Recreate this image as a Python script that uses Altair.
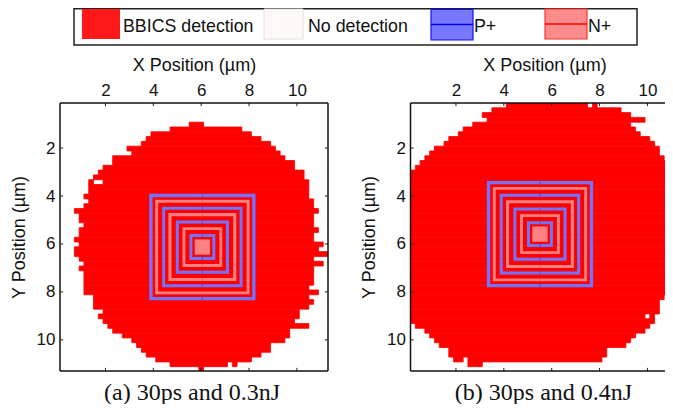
import altair as alt
import pandas as pd

# Detected runs per 0.2 um row: (first column, end column), columns and rows on a 0.2 um grid
RUNS_A = {
 4:[(27,30)],5:[(23,38)],6:[(19,40)],7:[(18,42)],8:[(17,44)],9:[(14,45)],10:[(15,46)],11:[(11,47)],
 12:[(11,49)],13:[(9,49)],14:[(8,51)],15:[(7,51)],16:[(6,7),(9,52)],17:[(6,52)],18:[(6,52)],19:[(5,52)],
 20:[(6,53)],21:[(5,53)],22:[(3,54)],23:[(4,53)],24:[(4,53)],25:[(5,53)],26:[(4,54)],27:[(4,53)],
 28:[(3,53)],29:[(4,55)],30:[(3,54)],31:[(3,56)],32:[(4,53)],33:[(5,55)],34:[(4,53)],35:[(5,53)],
 36:[(5,53)],37:[(5,53)],38:[(5,52)],39:[(5,54)],40:[(7,52)],41:[(7,53)],42:[(7,52)],43:[(9,50)],
 44:[(8,50)],45:[(9,49)],46:[(10,52)],47:[(11,48)],48:[(13,48)],49:[(15,47)],50:[(16,44)],51:[(17,44)],
 52:[(18,42)],53:[(20,40)],54:[(23,35),(36,37)],55:[(29,30)],
}
RUNS_B = {
 0:[(20,37),(38,39)],1:[(17,44)],2:[(15,46)],3:[(16,49)],4:[(13,46)],5:[(11,47)],6:[(10,48)],7:[(8,50)],
 8:[(7,51)],9:[(5,52)],10:[(4,52)],11:[(3,53)],12:[(2,56)],13:[(1,56)],14:[(0,56)],15:[(0,56)],
 16:[(0,54),(55,56)],17:[(0,56)],18:[(0,56)],19:[(0,56)],20:[(0,56)],21:[(0,56)],22:[(0,56)],23:[(0,56)],
 24:[(0,56)],25:[(0,56)],26:[(0,56)],27:[(0,56)],28:[(0,56)],29:[(0,56)],30:[(0,56)],31:[(0,56)],
 32:[(0,56)],33:[(0,56)],34:[(0,56)],35:[(0,56)],36:[(0,56)],37:[(0,56)],38:[(0,54)],39:[(0,54)],
 40:[(0,53)],41:[(0,52)],42:[(0,52)],43:[(0,52)],44:[(0,49),(50,51)],45:[(0,51)],46:[(1,50)],47:[(3,49)],
 48:[(4,47)],49:[(5,46)],50:[(6,45)],51:[(8,41)],52:[(8,41)],53:[(9,11),(12,40)],54:[(12,15)],
}
TICKS = [2, 4, 6, 8, 10]
# Ring half-sizes in um (outer, inner), outermost first
RING_OUTER = [2.22, 1.97, 1.68, 1.417, 1.11, 0.83, 0.54]
RING_INNER = [2.08, 1.85, 1.556, 1.29, 0.986, 0.71, 0.417]
RING_KIND = ["P+", "N+", "P+", "N+", "P+", "N+", "P+"]
CORE_HALF = 0.32
CENTER_A = (6.05, 6.13)
CENTER_B = (5.51, 5.59)
BLUE, PINK = "#7373ff", "#ff8080"
DARK = {"P+": "#4a4ad8", "N+": "#f26060"}

X0, Y0, Y1 = 0.1, 0.12, 11.3
SANS = "Liberation Sans"
SERIF = "Liberation Serif"
one = pd.DataFrame({"a": [0]})


def cells(runs):
    rows = []
    for r, spans in runs.items():
        for a, b in spans:
            rows.append({"x": X0 + 0.2 * a, "x2": X0 + 0.2 * b, "y": Y0 + 0.2 * r, "y2": Y0 + 0.2 * (r + 1)})
    return pd.DataFrame(rows)


def panel(runs, center, xend, width, caption, cap_x, title_x, box_right, legend=None):
    xs = alt.Scale(domain=[X0, xend], nice=False, zero=False)
    ys = alt.Scale(domain=[Y0, Y1], nice=False, zero=False, reverse=True)
    xax = alt.Axis(orient="top", values=TICKS, title="X Position (µm)", tickSize=0, domain=False, grid=False,
                   labelFont=SANS, labelFontSize=17, labelColor="#111", labelPadding=4, labelFontWeight="normal",
                   titleFont=SANS, titleFontSize=18, titleFontWeight="normal", titleColor="#111",
                   titleX=title_x, titleY=-38, titleBaseline="middle", titleAnchor="middle", titleAlign="center")
    yax = alt.Axis(orient="left", values=TICKS, title="Y Position (µm)", tickSize=0, domain=False, grid=False,
                   labelFont=SANS, labelFontSize=17, labelColor="#111", labelPadding=5,
                   titleFont=SANS, titleFontSize=18, titleFontWeight="normal", titleColor="#111",
                   titleX=-41, titleY=134, titleBaseline="middle", titleAnchor="middle", titleAlign="center")
    cdf = cells(runs)
    base = alt.Chart(cdf).mark_rect(color="#ff0000", stroke="#ff0000", strokeWidth=0.8, clip=True).encode(
        x=alt.X("x:Q", scale=xs, axis=xax), x2="x2:Q",
        y=alt.Y("y:Q", scale=ys, axis=yax), y2="y2:Q")
    cx, cy = center
    rings = pd.DataFrame([
        {"x": cx - (o + i) / 2, "x2": cx + (o + i) / 2, "y": cy - (o + i) / 2, "y2": cy + (o + i) / 2,
         "c": BLUE if k == "P+" else PINK, "w": (o - i) * 24}
        for o, i, k in zip(RING_OUTER, RING_INNER, RING_KIND)])
    ring = alt.Chart(rings).mark_rect(fillOpacity=0).encode(
        x=alt.X("x:Q", scale=xs, axis=None), x2="x2:Q", y=alt.Y("y:Q", scale=ys, axis=None), y2="y2:Q",
        stroke=alt.Stroke("c:N", scale=None), strokeWidth=alt.StrokeWidth("w:Q", scale=None))
    core = alt.Chart(pd.DataFrame([{"x": cx - CORE_HALF, "x2": cx + CORE_HALF, "y": cy - CORE_HALF, "y2": cy + CORE_HALF}])
                     ).mark_rect(color=PINK).encode(
        x=alt.X("x:Q", scale=xs, axis=None), x2="x2:Q", y=alt.Y("y:Q", scale=ys, axis=None), y2="y2:Q")
    seg_rows = []
    for o, i, k in zip(RING_OUTER, RING_INNER, RING_KIND):
        seg_rows.append({"x": cx, "y": cy - o, "y2": cy - i, "c": DARK[k]})
        seg_rows.append({"x": cx, "y": cy + i, "y2": cy + o, "c": DARK[k]})
    segs = alt.Chart(pd.DataFrame(seg_rows)).mark_rule(strokeWidth=1).encode(
        x=alt.X("x:Q", scale=xs, axis=None), y=alt.Y("y:Q", scale=ys, axis=None), y2="y2:Q",
        color=alt.Color("c:N", scale=None))
    # inward ticks
    tick_rows = []
    for t in TICKS:
        tick_rows.append({"x": t, "x2": t, "y": Y0, "y2": Y0 + 0.13})
        tick_rows.append({"x": t, "x2": t, "y": Y1 - 0.13, "y2": Y1})
        tick_rows.append({"x": X0, "x2": X0 + 0.13, "y": t, "y2": t})
        if box_right:
            tick_rows.append({"x": xend - 0.13, "x2": xend, "y": t, "y2": t})
    ticks = alt.Chart(pd.DataFrame(tick_rows)).mark_rule(color="#222", strokeWidth=1).encode(
        x=alt.X("x:Q", scale=xs, axis=None), x2="x2:Q", y=alt.Y("y:Q", scale=ys, axis=None), y2="y2:Q")
    frame_rows = [
        {"x": X0, "x2": xend, "y": Y0, "y2": Y0},
        {"x": X0, "x2": xend, "y": Y1, "y2": Y1},
        {"x": X0, "x2": X0, "y": Y0, "y2": Y1},
    ]
    if box_right:
        frame_rows.append({"x": xend, "x2": xend, "y": Y0, "y2": Y1})
    frame = alt.Chart(pd.DataFrame(frame_rows)).mark_rule(color="#111", strokeWidth=1.5).encode(
        x=alt.X("x:Q", scale=xs, axis=None), x2="x2:Q", y=alt.Y("y:Q", scale=ys, axis=None), y2="y2:Q")
    cap = alt.Chart(one).mark_text(text=caption, font=SERIF, fontSize=24, color="#111", baseline="middle", align="center").encode(
        x=alt.value(cap_x), y=alt.value(289.5))
    layers = [base, ring, core, segs, ticks, frame, cap] + (legend or [])
    return alt.layer(*layers).resolve_axis(x="independent", y="independent").properties(width=width, height=268)


def box(x, x2, y, y2, **kw):
    return alt.Chart(one).mark_rect(**kw).encode(x=alt.value(x), x2=alt.value(x2), y=alt.value(y), y2=alt.value(y2))


def label(text, x):
    return alt.Chart(one).mark_text(text=text, font=SANS, fontSize=17.8, color="#111", align="left", baseline="middle").encode(
        x=alt.value(x), y=alt.value(-76))


def hline(x, x2, y, color):
    return alt.Chart(one).mark_rule(color=color, strokeWidth=1.5).encode(
        x=alt.value(x), x2=alt.value(x2), y=alt.value(y))


legend = [
    box(14, 577, -94.2, -58, fill="#ffffff", stroke="#222", strokeWidth=1.5),
    box(22, 60, -94, -64, fill="#ff1818"),
    label("BBICS detection", 63),
    box(204, 243, -94, -64, fill="#fff8f8", stroke="#e4dede", strokeWidth=1),
    label("No detection", 248),
    box(371, 413, -93.5, -63, fill="#7878ff", stroke="#1010ff", strokeWidth=1.2),
    hline(371, 413, -78.5, "#0000ee"),
    label("P+", 414),
    box(485, 527, -94, -64, fill="#ff8c8c", stroke="#ff3030", strokeWidth=1.2),
    hline(485, 527, -79, "#ff0000"),
    label("N+", 528),
]

left = panel(RUNS_A, CENTER_A, 11.3, 268, "(a) 30ps and 0.3nJ", 132, 134, True, legend)
right = panel(RUNS_B, CENTER_B, 11.09, 263, "(b) 30ps and 0.4nJ", 133, 134, False)

chart = alt.hconcat(left, right, spacing=82.5, bounds="flush").properties(
    padding={"left": 2, "top": 0, "right": -10, "bottom": -1}).configure_view(stroke=None)
chart.save("out.html", embed_options={"renderer": "svg", "actions": False})
